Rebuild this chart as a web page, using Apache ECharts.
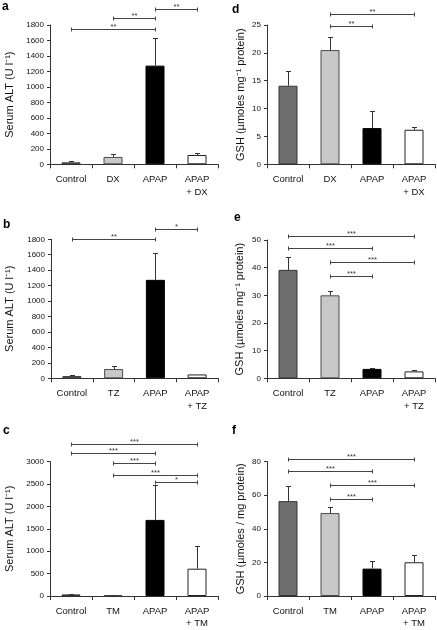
<!DOCTYPE html>
<html><head><meta charset="utf-8">
<script src="https://cdn.jsdelivr.net/npm/echarts@6/dist/echarts.min.js"></script>
<style>html,body{margin:0;padding:0;background:#fff}#c{width:437px;height:630px}</style>
</head><body><div id="c"></div>
<script>
// ---- data ----
const panelLetters = ['a','b','c','d','e','f'];

const catsA = ['Control','DX','APAP','APAP\n+ DX'];
const valsA = [25, 95, 1275, 120];
const errsA = [15, 35, 355, 25];
const sigA  = [[0,2,1744,'**'],[1,2,1894,'**'],[2,3,2003,'**']];
const axisA = [0, 1800, 200];
const nameA = 'Serum ALT (U l\u207B\u00B9)';

const catsB = ['Control','TZ','APAP','APAP\n+ TZ'];
const valsB = [28, 120, 1275, 50];
const errsB = [14, 40, 350, 0];
const sigB  = [[0,2,1800,'**'],[2,3,1933,'*']];
const axisB = [0, 1800, 200];
const nameB = 'Serum ALT (U l\u207B\u00B9)';

const catsC = ['Control','TM','APAP','APAP\n+ TM'];
const valsC = [35, 20, 1700, 610];
const errsC = [20, 5, 770, 505];
const sigC  = [[0,3,3397,'***'],[0,2,3194,'***'],[1,2,2966,'***'],[1,3,2714,'***'],[2,3,2548,'*']];
const axisC = [0, 3000, 500];
const nameC = 'Serum ALT (U l\u207B\u00B9)';

const catsD = ['Control','DX','APAP','APAP\n+ DX'];
const valsD = [14.1, 20.5, 6.5, 6.2];
const errsD = [2.6, 2.4, 3.1, 0.45];
const sigD  = [[1,3,26.9,'**'],[1,2,24.8,'**']];
const axisD = [0, 25, 5];
const nameD = 'GSH (\u00B5moles mg\u207B\u00B9 protein)';

const catsE = ['Control','TZ','APAP','APAP\n+ TZ'];
const valsE = [39.2, 30, 3.4, 2.5];
const errsE = [4.8, 1.7, 0.5, 0.4];
const sigE  = [[0,3,51.6,'***'],[0,2,47.2,'***'],[1,3,42.2,'***'],[1,2,37.0,'***']];
const axisE = [0, 50, 10];
const nameE = 'GSH (\u00B5moles mg\u207B\u00B9 protein)';

const catsF = ['Control','TM','APAP','APAP\n+ TM'];
const valsF = [56.5, 49.4, 16.3, 20.1];
const errsF = [9.1, 3.4, 4.8, 4.4];
const sigF  = [[0,3,81.4,'***'],[0,2,74.3,'***'],[1,3,66.0,'***'],[1,2,58.0,'***']];
const axisF = [0, 80, 20];
const nameF = 'GSH (\u00B5moles / mg protein)';

// ---- styles / layout ----
const barFill   = ['#6e6e6e','#c8c8c8','#000000','#ffffff'];
const barBorder = ['#333333','#4a4a4a','#000000','#222222'];
const FONT = '"Liberation Sans", Arial, Helvetica, sans-serif';

const panels = [
  {cats:catsA, vals:valsA, errs:errsA, sig:sigA, ax:axisA, name:nameA, grid:{left:50, top:25, width:168, height:139.3}, gap:35, letter:[2,12]},
  {cats:catsB, vals:valsB, errs:errsB, sig:sigB, ax:axisB, name:nameB, grid:{left:51, top:239.3, width:167, height:139}, gap:36, letter:[3,230]},
  {cats:catsC, vals:valsC, errs:errsC, sig:sigC, ax:axisC, name:nameC, grid:{left:50, top:461.7, width:168, height:139.3}, gap:35, letter:[3,436]},
  {cats:catsD, vals:valsD, errs:errsD, sig:sigD, ax:axisD, name:nameD, grid:{left:267, top:25, width:168, height:139.3}, gap:21, letter:[232,15]},
  {cats:catsE, vals:valsE, errs:errsE, sig:sigE, ax:axisE, name:nameE, grid:{left:267, top:240, width:168, height:138.3}, gap:22, letter:[234,223]},
  {cats:catsF, vals:valsF, errs:errsF, sig:sigF, ax:axisF, name:nameF, grid:{left:267, top:461.7, width:168, height:139.3}, gap:21, letter:[232,436]}
];

const grids = [], xAxes = [], yAxes = [], series = [], graphics = [];
panels.forEach((p, i) => {
  grids.push(Object.assign({}, p.grid));
  xAxes.push({
    type:'category', gridIndex:i, data:p.cats, boundaryGap:true,
    axisLine:{show:true, lineStyle:{color:'#333', width:1}},
    axisTick:{show:true, length:4, alignWithLabel:false, lineStyle:{color:'#333'}},
    axisLabel:{interval:0, fontSize:9.5, lineHeight:12.5, margin:9, color:'#111', fontFamily:FONT}
  });
  yAxes.push({
    type:'value', gridIndex:i, min:p.ax[0], max:p.ax[1], interval:p.ax[2],
    name:p.name, nameLocation:'middle', nameRotate:90, nameGap:p.gap,
    nameTextStyle:{fontSize:11, color:'#111', fontFamily:FONT},
    axisLine:{show:true, lineStyle:{color:'#333', width:1}},
    axisTick:{show:true, length:3, lineStyle:{color:'#333'}},
    axisLabel:{fontSize:8, color:'#111', margin:6, fontFamily:FONT, formatter:v => String(v)},
    splitLine:{show:false}
  });
  series.push({
    type:'bar', xAxisIndex:i, yAxisIndex:i, barWidth:19, z:2,
    data:p.vals.map((v, k) => ({value:v, itemStyle:{color:barFill[k], borderColor:barBorder[k], borderWidth:1}})),
    silent:true
  });
  const errs = p.vals.map((v, k) => [k, v, p.errs[k]]);
  series.push({
    type:'custom', xAxisIndex:i, yAxisIndex:i, z:3, silent:true,
    data:errs, encode:{x:0, y:1},
    renderItem:function(params, api){
      const e = api.value(2);
      if (!e) return null;
      const x = api.value(0), v = api.value(1);
      const p0 = api.coord([x, v]), p1 = api.coord([x, v + e]);
      const cx = Math.round(p0[0]) + 0.5, yt = Math.round(p1[1]) + 0.5;
      return {type:'group', children:[
        {type:'line', shape:{x1:cx, y1:p0[1], x2:cx, y2:yt}, style:{stroke:'#333', lineWidth:1}},
        {type:'line', shape:{x1:cx-2.5, y1:yt, x2:cx+2.5, y2:yt}, style:{stroke:'#333', lineWidth:1}}
      ]};
    }
  });
  const sig = p.sig;
  series.push({
    type:'custom', xAxisIndex:i, yAxisIndex:i, z:4, silent:true, clip:false,
    data:sig.map(s => [s[0], s[1], s[2]]), encode:{x:[0,1], y:2},
    renderItem:function(params, api){
      const a = api.coord([api.value(0), api.value(2)]);
      const b = api.coord([api.value(1), api.value(2)]);
      const y = Math.round(a[1]) + 0.5;
      const x1 = Math.round(a[0]) + 0.5, x2 = Math.round(b[0]) + 0.5;
      return {type:'group', children:[
        {type:'line', shape:{x1:x1, y1:y, x2:x2, y2:y}, style:{stroke:'#444', lineWidth:1}},
        {type:'line', shape:{x1:x1, y1:y-2, x2:x1, y2:y+2}, style:{stroke:'#444', lineWidth:1}},
        {type:'line', shape:{x1:x2, y1:y-2, x2:x2, y2:y+2}, style:{stroke:'#444', lineWidth:1}},
        {type:'text', x:(x1+x2)/2, y:y+1, style:{text:sig[params.dataIndex][3], fontSize:7.5, fill:'#333', align:'center', verticalAlign:'bottom', fontFamily:FONT}}
      ]};
    }
  });
  graphics.push({type:'text', left:p.letter[0], top:p.letter[1]-11, style:{text:panelLetters[i], fontSize:12, fontWeight:'bold', fill:'#000', fontFamily:FONT}});
});

const chart = echarts.init(document.getElementById('c'), null, {renderer:'canvas'});
chart.setOption({
  animation:false,
  backgroundColor:'#fff',
  textStyle:{fontFamily:FONT},
  grid:grids, xAxis:xAxes, yAxis:yAxes, series:series, graphic:graphics
});
</script></body></html>
